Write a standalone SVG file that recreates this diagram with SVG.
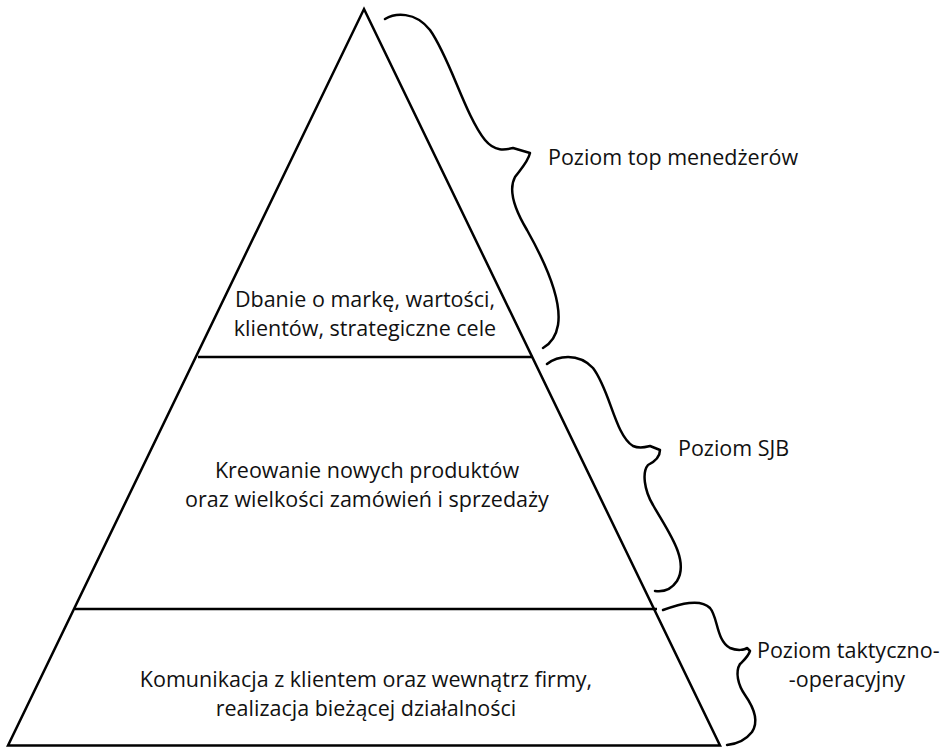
<svg xmlns="http://www.w3.org/2000/svg" width="946" height="747" viewBox="0 0 946 747">
  <style>
    .edge { fill: none; stroke: #000; stroke-width: 2.5; stroke-linejoin: miter; }
    .brace { fill: none; stroke: #000; stroke-width: 2.5; stroke-linecap: round; stroke-linejoin: round; }
    text { font-family: "Open Sans", "Liberation Sans", sans-serif; font-size: 21.5px; fill: #111; }
    .mid { text-anchor: middle; }
  </style>
  <rect width="946" height="747" fill="#fff"/>

  <!-- pyramid outline and tier dividers -->
  <g id="pyramid">
    <polygon class="edge" points="364,9 720,745.5 8,745.5"/>
    <line class="edge" x1="198" y1="357" x2="533" y2="357"/>
    <line class="edge" x1="75" y1="609" x2="657" y2="609"/>
  </g>

  <!-- tier labels inside the pyramid -->
  <g id="tier-top">
    <text class="mid" x="365" y="307">Dbanie o markę, wartości,</text>
    <text class="mid" x="365" y="336">klientów, strategiczne cele</text>
  </g>
  <g id="tier-middle">
    <text class="mid" x="367" y="478">Kreowanie nowych produktów</text>
    <text class="mid" x="367" y="507">oraz wielkości zamówień i sprzedaży</text>
  </g>
  <g id="tier-bottom">
    <text class="mid" x="366" y="687">Komunikacja z klientem oraz wewnątrz firmy,</text>
    <text class="mid" x="366" y="716">realizacja bieżącej działalności</text>
  </g>

  <!-- curly braces marking each management level -->
  <g id="connectors">
    <path class="brace" d="M385,19 C395,13 415,11 430,30 C450,58 465,115 485,140 C495,152 505,150 513,148 L530,153 C528,162 520,170 515,177 C508,190 515,210 527,230 C545,262 562,300 558,325 C556,337 550,344 543,348"/>
    <path class="brace" d="M547,364 C557,356 578,352 593,368 C610,390 615,435 633,446 C640,449 646,447 650,446 L660,450 C660,457 654,462 648,465 C642,472 644,490 653,505 C667,530 690,560 677,581 C671,590 662,592 655,591"/>
    <path class="brace" d="M663,610 C680,604 700,598 710,608 C718,617 716,640 730,648 C737,651 745,650 747,648 L750,651 C748,657 744,660 740,664 C735,672 738,685 745,695 C752,705 760,720 752,732 C745,741 737,744 727,745"/>
  </g>

  <!-- level names beside the braces -->
  <g id="level-top">
    <text x="548" y="165">Poziom top menedżerów</text>
  </g>
  <g id="level-sjb">
    <text x="678" y="456">Poziom SJB</text>
  </g>
  <g id="level-tactical">
    <text x="757" y="658">Poziom taktyczno-</text>
    <text class="mid" x="847" y="687">-operacyjny</text>
  </g>
</svg>
